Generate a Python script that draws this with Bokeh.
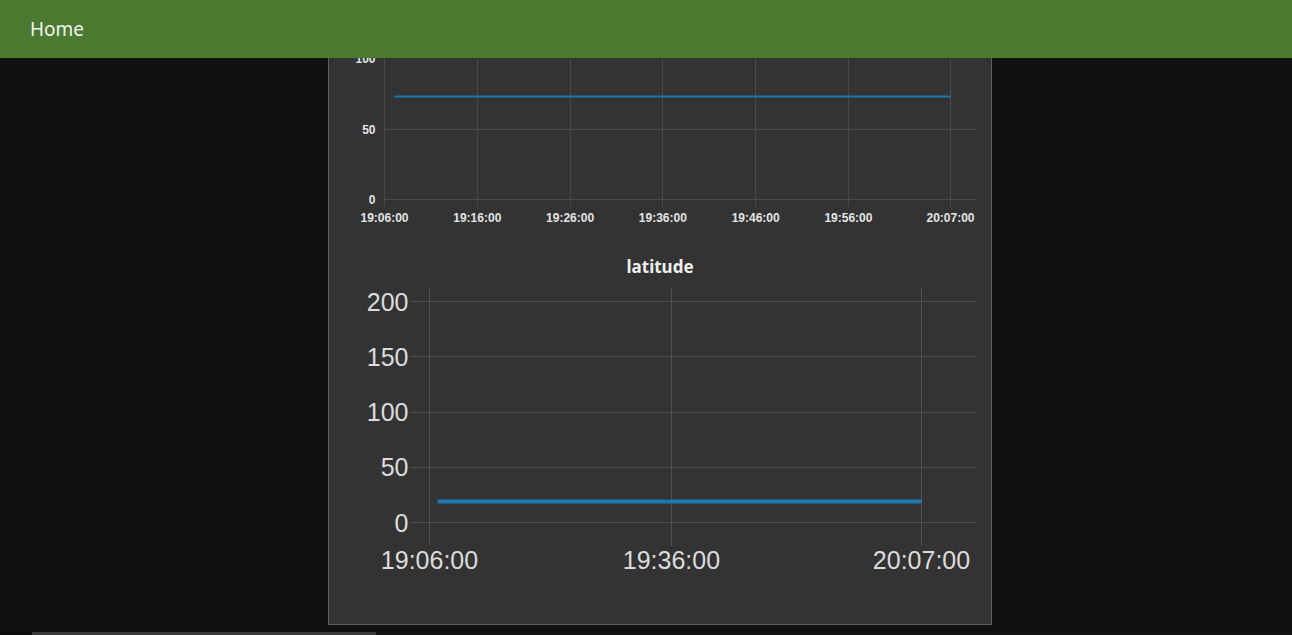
from bokeh.plotting import figure
from bokeh.layouts import column, row
from bokeh.models import Div, Spacer, Range1d, FixedTicker
from bokeh.embed import file_html
from bokeh.resources import INLINE

# ---------------- data ----------------
BASE_TIME = "19:06:00"

top_times = ["19:07:00", "20:07:00"]
top_values = [73, 73]
top_x_ticks = ["19:06:00", "19:16:00", "19:26:00", "19:36:00", "19:46:00", "19:56:00", "20:07:00"]
top_y_ticks = [0, 50, 100]

lat_title = "latitude"
lat_times = ["19:07:00", "20:07:00"]
lat_values = [19, 19]
lat_x_ticks = ["19:06:00", "19:36:00", "20:07:00"]
lat_y_ticks = [0, 50, 100, 150, 200]

header_text = "Home"


def minutes(t):
    h, m, s = (int(v) for v in t.split(":"))
    bh, bm, bs = (int(v) for v in BASE_TIME.split(":"))
    return (h * 60 + m + s / 60) - (bh * 60 + bm + bs / 60)


def int_minutes(t):
    return int(round(minutes(t)))


PANEL_BG = "#333333"
GRID = "#4a4a4a"
LINE = "#1f77b4"
FONT = "Liberation Sans"


def style(p, grid_color):
    p.background_fill_color = None
    p.border_fill_color = None
    p.outline_line_color = None
    p.styles = {"background-color": PANEL_BG}
    for ax in (p.xaxis, p.yaxis):
        ax.axis_line_color = grid_color
        ax.major_tick_line_color = grid_color
        ax.minor_tick_line_color = None
        ax.major_tick_in = 0
        ax.major_label_text_font = FONT
    p.xgrid.grid_line_color = grid_color
    p.ygrid.grid_line_color = grid_color


# ---------------- top chart (scrolled, partly hidden under the header) ----------------
p1 = figure(width=662, height=183, output_backend="svg", toolbar_location=None,
            x_range=Range1d(0, 63.8), y_range=Range1d(0, 100),
            min_border_left=55, min_border_right=15, min_border_top=6, min_border_bottom=36,
            margin=0)
style(p1, GRID)
p1.line([minutes(t) for t in top_times], top_values, line_color=LINE, line_width=2)
xt = [int_minutes(t) for t in top_x_ticks]
p1.xaxis.ticker = FixedTicker(ticks=xt)
p1.xaxis.major_label_overrides = {k: lab for k, lab in zip(xt, top_x_ticks)}
p1.yaxis.ticker = FixedTicker(ticks=top_y_ticks)
p1.xaxis.major_tick_out = 7
p1.xaxis.major_label_standoff = 4
p1.yaxis.major_tick_out = 0
p1.yaxis.major_label_standoff = 9
for ax in (p1.xaxis, p1.yaxis):
    ax.major_label_text_font_size = "12px"
    ax.major_label_text_font_style = "bold"
    ax.major_label_text_color = "#e4e4e4"

# ---------------- latitude chart ----------------
p2 = figure(width=662, height=389, output_backend="svg", toolbar_location=None,
            x_range=Range1d(0, 67.82), y_range=Range1d(0, 212.7),
            min_border_left=100, min_border_right=15, min_border_top=52, min_border_bottom=102,
            margin=0)
style(p2, "#515151")
p2.title.text = lat_title
p2.title.align = "left"
p2.title.offset = 197      # centres the title over the whole card, not the frame
p2.title.text_color = "#eeeeee"
p2.title.text_font = "Noto Sans"
p2.title.text_font_style = "bold"
p2.title.text_font_size = "17px"
p2.title.standoff = 19
p2.line([minutes(t) for t in lat_times], lat_values, line_color=LINE, line_width=4)
xt2 = [int_minutes(t) for t in lat_x_ticks]
p2.xaxis.ticker = FixedTicker(ticks=xt2)
p2.xaxis.major_label_overrides = {k: lab for k, lab in zip(xt2, lat_x_ticks)}
p2.yaxis.ticker = FixedTicker(ticks=lat_y_ticks)
p2.xaxis.major_tick_out = 23
p2.xaxis.major_label_standoff = 0
p2.yaxis.major_tick_out = 19
p2.yaxis.major_label_standoff = 2
for ax in (p2.xaxis, p2.yaxis):
    ax.major_label_text_font_size = "25px"
    ax.major_label_text_color = "#dcdcdc"

# ---------------- page layout ----------------
header = Div(
    text=('<div style="padding-left:30px;line-height:58px;font-family:\'Noto Sans\';'
          'font-size:19px;color:#f2f2f2;white-space:nowrap">%s</div>' % header_text),
    width=1292, height=58, margin=0,
    styles={"background-color": "#4b7930", "overflow": "hidden",
            "position": "relative", "z-index": "10"})

BORDER = "#5e5e5e"


def block(w, h, color):
    return Div(text="", width=w, height=h, margin=0,
               styles={"background-color": color, "overflow": "hidden"})


strip1 = row(Spacer(width=328, height=183), block(1, 183, BORDER), p1, block(1, 183, BORDER),
             Spacer(width=300, height=183), width=1292, height=183, spacing=0,
             margin=(-6, 0, 0, 0))
strip2 = row(Spacer(width=328, height=389), block(1, 389, BORDER), p2, block(1, 389, BORDER),
             Spacer(width=300, height=389), width=1292, height=389, spacing=0)
strip3 = row(Spacer(width=328, height=1), block(664, 1, BORDER),
             Spacer(width=300, height=1), width=1292, height=1, spacing=0)
scroll = row(block(32, 3, "#0b0b0b"), block(344, 3, "#3b3b3b"), block(916, 3, "#121210"),
             width=1292, height=3, spacing=0)

root = column(header, strip1, strip2, strip3, Spacer(width=1292, height=7), scroll,
              width=1292, height=635, spacing=0,
              styles={"background-color": "#111111"})

open("out.html", "w").write(file_html(root, INLINE))
